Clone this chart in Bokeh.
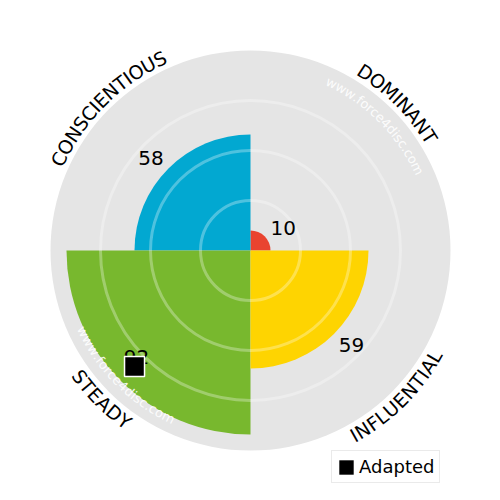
import math
from bokeh.plotting import figure
from bokeh.models import ColumnDataSource, Legend, LegendItem
from bokeh.core.properties import value
from bokeh.embed import file_html
from bokeh.resources import INLINE

# ---- data ----
categories = ["DOMINANT", "CONSCIENTIOUS", "STEADY", "INFLUENTIAL"]
scores = [10, 58, 92, 59]
colors = ["#e94430", "#02a8d1", "#78b82e", "#fed401"]
adapted_category = "STEADY"
adapted_value = 82
watermark = "www.force4disc.com"

# ---- styling constants ----
quad_center = {"DOMINANT": 45, "CONSCIENTIOUS": 135, "STEADY": 225, "INFLUENTIAL": 315}
label_angle = {"DOMINANT": 35, "CONSCIENTIOUS": 137, "STEADY": 223, "INFLUENTIAL": 317}
PX = 2.0  # pixels per data unit
FONT = "DejaVu Sans"

ADV = {"C": 1430, "O": 1612, "N": 1532, "S": 1300, "I": 604, "E": 1294, "T": 1251,
       "U": 1499, "D": 1581, "M": 1767, "A": 1401, "Y": 1251, "F": 1165, "L": 1141,
       "w": 1675, ".": 651, "f": 721, "o": 1253, "r": 842, "c": 1126, "e": 1260,
       "4": 1303, "d": 1300, "i": 569, "s": 1067, "m": 1995}


def arc_chars(text, center_deg, r_px, size_px, clockwise):
    widths = [ADV.get(ch, 1200) / 2048.0 * size_px for ch in text]
    total = sum(widths)
    xs, ys, angs, chs = [], [], [], []
    s = 0.0
    for ch, w in zip(text, widths):
        mid = s + w / 2 - total / 2
        s += w
        off = mid / r_px
        phi = math.radians(center_deg) + (-off if clockwise else off)
        rot = phi - math.pi / 2 if clockwise else phi + math.pi / 2
        xs.append(r_px / PX * math.cos(phi))
        ys.append(r_px / PX * math.sin(phi))
        angs.append(rot)
        chs.append(ch)
    return dict(x=xs, y=ys, angle=angs, text=chs)


p = figure(width=484, height=484, x_range=(-125, 117), y_range=(-117, 125),
           output_backend="svg", toolbar_location=None, min_border=0,
           background_fill_color="white", border_fill_color="white")
p.axis.visible = False
p.grid.visible = False
p.outline_line_color = None

# background disc
p.scatter(x=[0], y=[0], size=400, marker="circle", fill_color="#e5e5e5", line_color=None)

# quadrant wedges
for cat, v, col in zip(categories, scores, colors):
    c = quad_center[cat]
    p.wedge(x=0, y=0, radius=v, start_angle=math.radians(c - 45), end_angle=math.radians(c + 45),
            fill_color=col, line_color=None)

# grid rings
for rr in [25, 50, 75]:
    p.circle(x=0, y=0, radius=rr, fill_color=None, line_color="white", line_alpha=0.3, line_width=3)

# watermarks
for c, cw in [(45, True), (225, False)]:
    d = arc_chars(watermark, c, 186, 13, cw)
    p.text(x="x", y="y", angle="angle", text="text", source=ColumnDataSource(d),
           text_align="center", text_baseline="middle", text_font=value(FONT),
           text_font_size="13px", text_color="white", text_alpha=0.9)

# category labels along arc
for cat in categories:
    c = quad_center[cat]
    d = arc_chars(cat, c, 212, 19, c < 180)
    p.text(x="x", y="y", angle="angle", text="text", source=ColumnDataSource(d),
           text_align="center", text_baseline="middle", text_font=value(FONT),
           text_font_size="19px", text_color="black")

# value labels
lx, ly, lt = [], [], []
for cat, v in zip(categories, scores):
    r = min(v + 10, 78)
    a = math.radians(label_angle[cat])
    lx.append(r * math.cos(a))
    ly.append(r * math.sin(a))
    lt.append(str(v))
p.text(x=lx, y=ly, text=lt, text_align="center", text_baseline="middle",
       text_font=value(FONT), text_font_size="20px", text_color="black")

# adapted marker
a = math.radians(quad_center[adapted_category])
ax_, ay_ = adapted_value * math.cos(a), adapted_value * math.sin(a)
p.scatter(x=[ax_], y=[ay_], marker="square",
          size=20, fill_color="black", line_color="white", line_width=1.5)

# legend proxy (zero-size rectangle at the marker, used for the swatch)
proxy = p.quad(left=[ax_], right=[ax_], top=[ay_], bottom=[ay_], fill_color="black", line_color=None)

legend = Legend(items=[LegendItem(label="Adapted", renderers=[proxy])], location=(331, 1),
                label_text_font=FONT, label_text_font_size="18px", label_text_color="black",
                glyph_width=18, glyph_height=18,
                padding=5, spacing=0, label_standoff=4, margin=0,
                border_line_color="#d5d5d5", background_fill_color="white", background_fill_alpha=1.0)
p.add_layout(legend, "center")

open("out.html", "w").write(file_html(p, INLINE))
